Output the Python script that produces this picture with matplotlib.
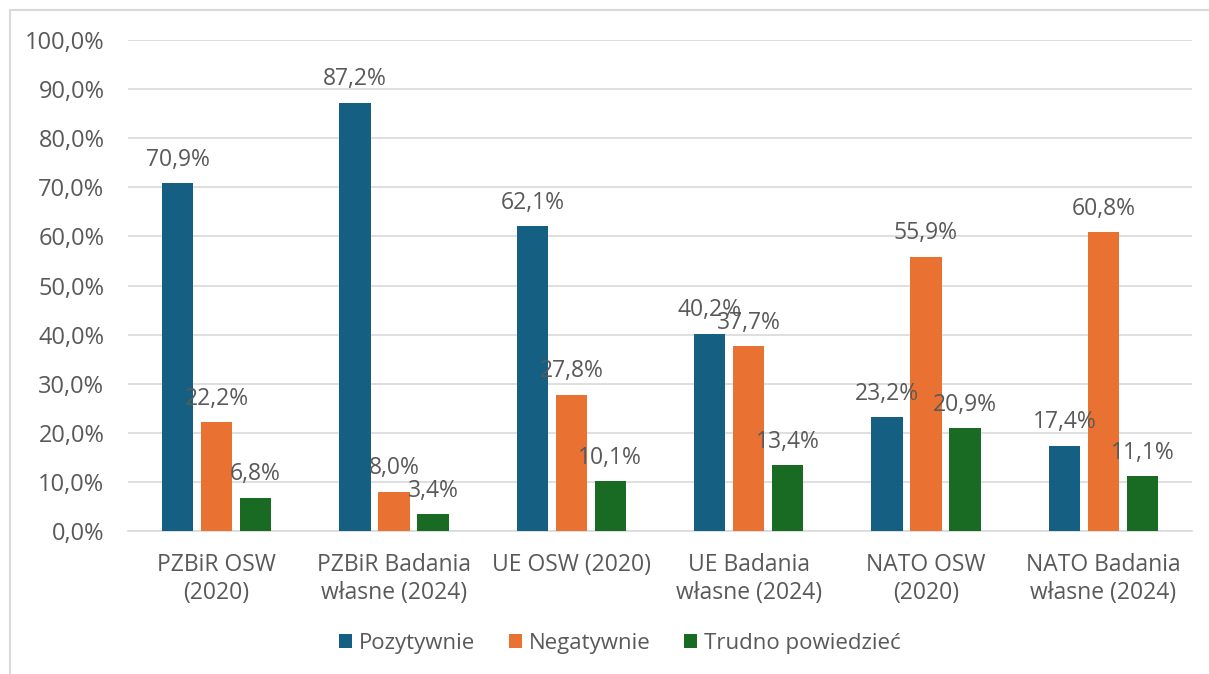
import matplotlib.pyplot as plt
import numpy as np
from matplotlib.patches import Rectangle

categories = ["PZBiR OSW\n(2020)", "PZBiR Badania\nwłasne (2024)", "UE OSW (2020)",
              "UE Badania\nwłasne (2024)", "NATO OSW\n(2020)", "NATO Badania\nwłasne (2024)"]
series_names = ["Pozytywnie", "Negatywnie", "Trudno powiedzieć"]
pozytywnie = [70.9, 87.2, 62.1, 40.2, 23.2, 17.4]
negatywnie = [22.2, 8.0, 27.8, 37.7, 55.9, 60.8]
trudno = [6.8, 3.4, 10.1, 13.4, 20.9, 11.1]
yticks = [0, 10, 20, 30, 40, 50, 60, 70, 80, 90, 100]

colors = ["#156082", "#E97132", "#196B24"]
text_color = "#595959"
plt.rcParams['font.family'] = ['Open Sans', 'DejaVu Sans']
fs_num = 16.5
fs_tick = 17
fs_cat = 16.5
fs_leg = 16

W, H = 1209, 674
fig = plt.figure(figsize=(W / 100, H / 100), dpi=100)
ax = fig.add_axes([128 / W, 1 - 531 / H, (1192 - 128) / W, (531 - 40) / H])

# chart border (left and top visible)
fig.patches.append(Rectangle((10 / W, -0.1), 1.2, 1 - 10 / H + 0.1, transform=fig.transFigure,
                             fill=False, edgecolor="#D9D9D9", linewidth=1.5))

x = np.arange(len(categories))
bw = 0.178
off = 0.22
for i, (vals, name) in enumerate(zip([pozytywnie, negatywnie, trudno], series_names)):
    pos = x + (i - 1) * off
    ax.bar(pos, vals, width=bw, color=colors[i], label=name, zorder=3)
    for p, v in zip(pos, vals):
        ax.annotate(f"{v:.1f}%".replace(".", ","), (p, v), xytext=(0, 12.5),
                    textcoords="offset points", ha="center", va="baseline",
                    fontsize=fs_num, color=text_color, zorder=4)

ax.set_xlim(-0.5, len(categories) - 0.5)
ax.set_ylim(0, 100)
ax.set_yticks(yticks)
ax.set_yticklabels([f"{t:.1f}%".replace(".", ",") for t in yticks], fontsize=fs_tick, color=text_color)
ax.set_xticks(x)
ax.set_xticklabels(categories, fontsize=fs_cat, color=text_color, linespacing=1.2)
ax.tick_params(axis='both', length=0)
ax.tick_params(axis='y', pad=17)
ax.tick_params(axis='x', pad=16)
ax.grid(axis='y', color="#D9D9D9", linewidth=1.2, zorder=0)
for s in ["top", "right", "left"]:
    ax.spines[s].set_visible(False)
ax.spines["bottom"].set_color("#D9D9D9")
ax.spines["bottom"].set_linewidth(1.2)

fig.legend(loc="center", bbox_to_anchor=(620 / W, 1 - 643 / H), ncol=3, frameon=False,
           fontsize=fs_leg, handlelength=0.58, handleheight=0.58, handletextpad=0.32,
           columnspacing=1.5, labelcolor=text_color)

fig.savefig("out.png", dpi=100)
